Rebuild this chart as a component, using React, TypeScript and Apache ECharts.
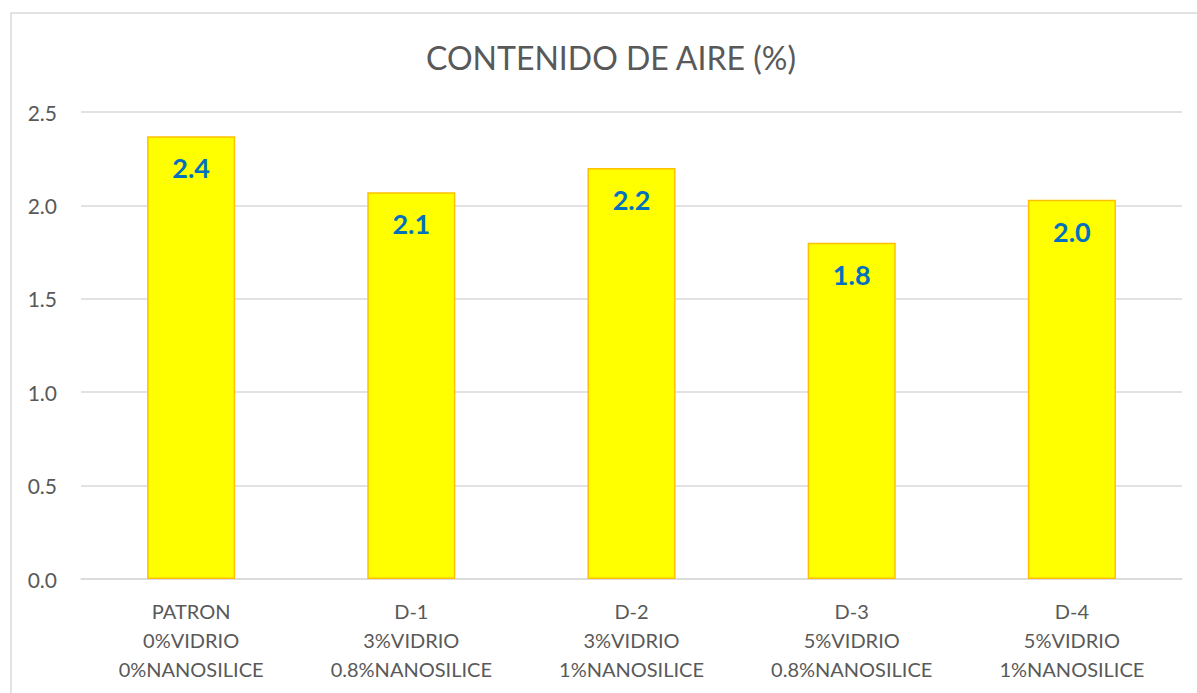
import React, { useEffect, useRef } from "react";
import * as echarts from "echarts";

const categories = [
  "PATRON\n0%VIDRIO\n0%NANOSILICE",
  "D-1\n3%VIDRIO\n0.8%NANOSILICE",
  "D-2\n3%VIDRIO\n1%NANOSILICE",
  "D-3\n5%VIDRIO\n0.8%NANOSILICE",
  "D-4\n5%VIDRIO\n1%NANOSILICE",
];
const values = [2.37, 2.07, 2.2, 1.8, 2.03];
const titleText = "CONTENIDO DE AIRE (%)";

const FONT = "Lato, 'Open Sans', sans-serif";

export default function App() {
  const ref = useRef<HTMLDivElement>(null);
  useEffect(() => {
    if (!ref.current) return;
    const chart = echarts.init(ref.current, null, { renderer: "svg" });
    chart.setOption({
      animation: false,
      backgroundColor: "#ffffff",
      title: {
        text: titleText,
        left: 606,
        textAlign: "center",
        top: 36,
        textStyle: { fontFamily: FONT, fontSize: 32, fontWeight: "normal", color: "#595959" },
      },
      graphic: [
        {
          type: "rect",
          shape: { x: 11, y: 13, width: 1300, height: 800 },
          style: { fill: "none", stroke: "#d9d9d9", lineWidth: 1.5 },
          silent: true,
        },
      ],
      grid: { left: 81, right: 15, top: 112, bottom: 114, containLabel: false },
      xAxis: {
        type: "category",
        data: categories,
        axisLine: { lineStyle: { color: "#d9d9d9", width: 1.5 } },
        axisTick: { show: false },
        axisLabel: {
          fontFamily: FONT,
          fontSize: 20,
          color: "#595959",
          lineHeight: 29,
          margin: 17,
          interval: 0,
        },
      },
      yAxis: {
        type: "value",
        min: 0,
        max: 2.5,
        interval: 0.5,
        axisLine: { show: false },
        axisTick: { show: false },
        splitLine: { lineStyle: { color: "#d9d9d9", width: 1.5 } },
        axisLabel: {
          fontFamily: FONT,
          fontSize: 21,
          color: "#595959",
          margin: 24,
          formatter: (v: number) => v.toFixed(1),
        },
      },
      series: [
        {
          type: "bar",
          data: values,
          barWidth: "40%",
          itemStyle: { color: "#ffff00", borderColor: "#ffc000", borderWidth: 1.5 },
          label: {
            show: true,
            position: "insideTop",
            distance: 18,
            fontFamily: FONT,
            fontSize: 27,
            fontWeight: "bold",
            color: "#0070c0",
            lineHeight: 27,
            formatter: (p: any) => Number(p.value).toFixed(1),
          },
        },
      ],
    });
    return () => chart.dispose();
  }, []);
  return (
    <div
      ref={ref}
      style={{ position: "fixed", left: 0, top: 0, width: 1197, height: 693 }}
    />
  );
}
